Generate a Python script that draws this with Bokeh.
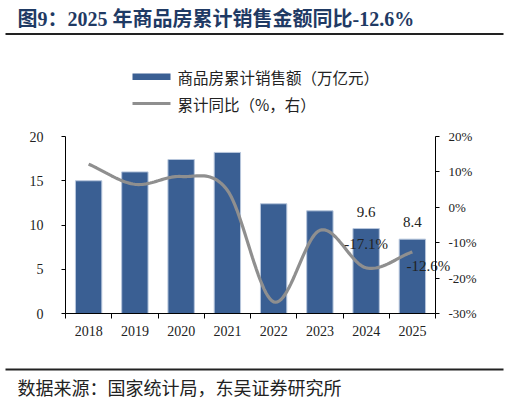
import numpy as np
from bokeh.core.properties import value
from bokeh.embed import file_html
from bokeh.models import ColumnDataSource, FixedTicker, LinearAxis, PrintfTickFormatter, Range1d
from bokeh.plotting import figure
from bokeh.resources import INLINE

# data
years = ["2018", "2019", "2020", "2021", "2022", "2023", "2024", "2025"]
sales = [15.0, 16.0, 17.4, 18.2, 12.4, 11.6, 9.6, 8.4]          # 万亿元
yoy = [12.2, 6.5, 8.7, 4.8, -26.7, -6.5, -17.1, -12.6]          # %
sales_ticks = [0, 5, 10, 15, 20]
yoy_ticks = [-30, -20, -10, 0, 10, 20]

TITLE = "图9：2025 年商品房累计销售金额同比-12.6%"
SOURCE = "数据来源：国家统计局，东吴证券研究所"
BAR_NAME = "商品房累计销售额（万亿元）"
LINE_NAME = "累计同比（%，右）"

BAR_COLOR = "#3A5F93"
LINE_COLOR = "#8F8F8F"
TITLE_COLOR = "#1F3A64"
TEXT_COLOR = "#222222"
RULE_COLOR = "#222222"
SERIF = "Liberation Serif"
MIXED = "Liberation Serif, Noto Sans CJK SC"
CJK = "Noto Sans CJK SC"

# page size and where the plot area sits on it (pixels)
W, H = 507, 400
PLOT_L, PLOT_R, PLOT_T, PLOT_B = 65, 435, 136, 313


def _smooth(xs, ys, steps=24):
    # Catmull-Rom through the points, close to a spreadsheet "smoothed line"
    xs = np.asarray(xs, dtype=float)
    ys = np.asarray(ys, dtype=float)
    px = np.concatenate(([2 * xs[0] - xs[1]], xs, [2 * xs[-1] - xs[-2]]))
    py = np.concatenate(([2 * ys[0] - ys[1]], ys, [2 * ys[-1] - ys[-2]]))
    out_x, out_y = [], []
    t = np.linspace(0, 1, steps, endpoint=False)
    for i in range(1, len(px) - 2):
        p0, p1, p2, p3 = (np.array([px[j], py[j]]) for j in (i - 1, i, i + 1, i + 2))
        b1 = p1 + (p2 - p0) / 6
        b2 = p2 - (p3 - p1) / 6
        pts = (((1 - t) ** 3)[:, None] * p1 + (3 * (1 - t) ** 2 * t)[:, None] * b1
               + (3 * (1 - t) * t ** 2)[:, None] * b2 + (t ** 3)[:, None] * p2)
        out_x.extend(pts[:, 0])
        out_y.extend(pts[:, 1])
    out_x.append(xs[-1])
    out_y.append(ys[-1])
    return out_x, out_y


def _page_range(lo, hi, px_lo, px_hi, px_total, flip=False):
    # data range that puts lo..hi at pixels px_lo..px_hi of a frame px_total wide
    unit = (px_hi - px_lo) / (hi - lo)
    if flip:  # vertical: pixel 0 is the top
        return Range1d(lo - (px_total - px_hi) / unit, hi + px_lo / unit)
    return Range1d(lo - px_lo / unit, hi + (px_total - px_hi) / unit)


n = len(years)
centers = [i + 0.5 for i in range(n)]
src = ColumnDataSource(data=dict(x=centers, sales=sales, yoy=yoy, year=years))

# the frame covers the whole canvas; axes are pinned inside it
p = figure(width=W, height=H, output_backend="svg", toolbar_location=None,
           x_range=_page_range(0, n, PLOT_L, PLOT_R, W),
           y_range=_page_range(sales_ticks[0], sales_ticks[-1], PLOT_T, PLOT_B, H, flip=True),
           x_axis_location=None, y_axis_location=None, min_border=0)
p.extra_y_ranges = {
    "yoy": _page_range(yoy_ticks[0], yoy_ticks[-1], PLOT_T, PLOT_B, H, flip=True),
    "px": Range1d(H, 0),
}
p.extra_x_ranges = {"px": Range1d(0, W)}
p.xgrid.visible = False
p.ygrid.visible = False
p.outline_line_color = None

p.vbar(x="x", top="sales", width=0.57, source=src, fill_color=BAR_COLOR,
       line_color="#b7c6dc", line_width=1)
sx, sy = _smooth(centers, yoy)
p.line(sx, sy, y_range_name="yoy", line_color=LINE_COLOR, line_width=3.2)

xa = LinearAxis(fixed_location=sales_ticks[0], bounds=(0, n),
                ticker=FixedTicker(ticks=centers, minor_ticks=list(range(n + 1))))
xa.major_label_overrides = {c: y for c, y in zip(centers, years)}
xa.major_tick_line_color = None
xa.major_tick_out = 5
xa.minor_tick_in = 0
xa.minor_tick_out = 5
xa.minor_tick_line_color = "black"
xa.major_label_standoff = 7
xa.major_label_text_font = SERIF
xa.major_label_text_font_size = "14px"
xa.major_label_text_color = TEXT_COLOR
xa.axis_line_color = "black"
p.add_layout(xa, "below")

ya = LinearAxis(fixed_location=0, bounds=(sales_ticks[0], sales_ticks[-1]),
                ticker=FixedTicker(ticks=sales_ticks))
ya.major_tick_in = 0
ya.major_tick_out = 4
ya.minor_tick_line_color = None
ya.major_label_standoff = 18
ya.major_label_text_font = SERIF
ya.major_label_text_font_size = "14px"
ya.major_label_text_color = TEXT_COLOR
ya.axis_line_color = "black"
p.add_layout(ya, "left")

yr = LinearAxis(y_range_name="yoy", fixed_location=n, bounds=(yoy_ticks[0], yoy_ticks[-1]),
                ticker=FixedTicker(ticks=yoy_ticks), formatter=PrintfTickFormatter(format="%d%%"))
yr.major_tick_in = 0
yr.major_tick_out = 4
yr.minor_tick_line_color = None
yr.major_label_standoff = 9
yr.major_label_text_font = SERIF
yr.major_label_text_font_size = "13px"
yr.major_label_text_color = TEXT_COLOR
yr.axis_line_color = "black"
p.add_layout(yr, "right")

# value labels for the last two years
last = slice(n - 2, None)
p.text(x=centers[last], y=sales[last], text=[f"{v:.1f}" for v in sales[last]],
       text_align="center", text_baseline="bottom", y_offset=-12,
       text_font=value(SERIF), text_font_size="15px", text_color=TEXT_COLOR)
yoy_offsets = [(0, -24), (16, 14)]
for c, v, (dx, dy) in zip(centers[last], yoy[last], yoy_offsets):
    p.text(x=[c], y=[v], text=[f"{v:.1f}%"], y_range_name="yoy",
           text_align="center", text_baseline="middle", x_offset=dx, y_offset=dy,
           text_font=value(SERIF), text_font_size="15px", text_color=TEXT_COLOR)

# title, rules, legend and source note, placed in page pixels
page = dict(x_range_name="px", y_range_name="px")
p.text(x=[17], y=[18], text=[TITLE], text_baseline="middle",
       text_font=value(MIXED), text_font_size="20px", text_font_style="bold",
       text_color=TITLE_COLOR, **page)
p.segment(x0=[5, 5], y0=[33.5, 369], x1=[503, 503], y1=[33.5, 369],
          line_color=RULE_COLOR, line_width=2, **page)
p.quad(left=[132], right=[170], top=[73], bottom=[79.5], fill_color=BAR_COLOR,
       line_color=None, **page)
p.segment(x0=[132], y0=[103], x1=[170], y1=[103], line_color=LINE_COLOR, line_width=3.2, **page)
p.text(x=[177, 177], y=[76, 103], text=[BAR_NAME, LINE_NAME], text_baseline="middle",
       text_font=value(CJK), text_font_size="15.5px", text_color=TEXT_COLOR, **page)
p.text(x=[17], y=[386], text=[SOURCE], text_baseline="middle",
       text_font=value(CJK), text_font_size="18px", text_color=TEXT_COLOR, **page)

open("out.html", "w").write(file_html(p, INLINE))
